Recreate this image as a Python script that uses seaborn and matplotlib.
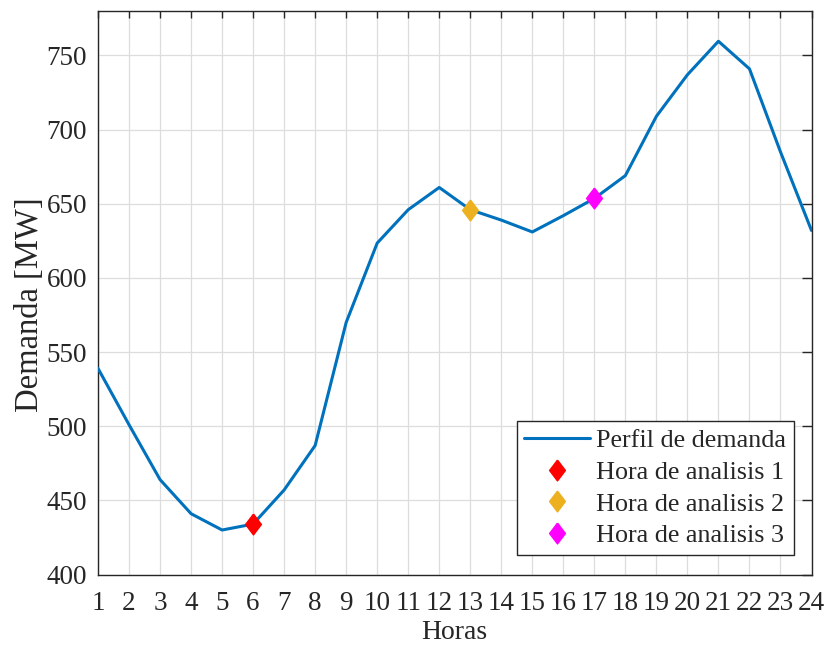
import numpy as np
import pandas as pd
import matplotlib
matplotlib.use("Agg")
import matplotlib.pyplot as plt
import seaborn as sns

horas = list(range(1, 25))
demanda = [539, 501, 464, 441, 430, 434, 457, 487, 570, 623.5, 646, 661,
           646, 639, 631, 642, 653.6, 669, 709, 737, 759.6, 741, 685, 632]
horas_analisis = [6, 13, 17]
etiquetas_analisis = ["Hora de analisis 1", "Hora de analisis 2", "Hora de analisis 3"]
colores_analisis = ["#FF0000", "#EDB120", "#FF00FF"]
etiqueta_linea = "Perfil de demanda"

sns.set_theme(style="white")
plt.rcParams['font.family'] = ['Liberation Serif', 'DejaVu Serif']
plt.rcParams['mathtext.fontset'] = 'stix'

fig = plt.figure(figsize=(8.27, 6.48), dpi=100)
ax = fig.add_axes([98/827, 1-574.5/648, (811.5-98)/827, (574.5-11)/648])

df = pd.DataFrame({"Horas": horas, "Demanda": demanda})
sns.lineplot(data=df, x="Horas", y="Demanda", ax=ax, color="#0072BD",
             linewidth=2.2, label=etiqueta_linea, zorder=3)

diamond = [(0, 1), (0.76, 0), (0, -1), (-0.76, 0), (0, 1)]
for h, lab, c in zip(horas_analisis, etiquetas_analisis, colores_analisis):
    ax.plot([h], [demanda[h-1]], linestyle="none", marker=diamond,
            markersize=15, color=c, markeredgecolor=c, label=lab, zorder=4)

ax.set_xlim(1, 24)
ax.set_ylim(400, 780)
ax.set_xticks(horas)
ax.set_yticks(np.arange(400, 751, 50))
ax.grid(True, color="#DDDDDD", linewidth=0.9)
ax.set_axisbelow(True)
for s in ax.spines.values():
    s.set_color("#262626")
    s.set_linewidth(1.0)
    s.set_visible(True)
ax.tick_params(direction="in", width=1.0, colors="#262626",
               labelsize=19.5, top=True, right=True, labelcolor="#262626")
ax.tick_params(axis="x", length=5, pad=12)
ax.tick_params(axis="y", length=7, pad=8)

ax.set_xlabel("Horas", fontsize=20, color="#262626", labelpad=3)
ax.set_ylabel("Demanda [MW]", fontsize=23.5, color="#262626")
ax.yaxis.set_label_coords(-0.074, 0.478)

leg = ax.legend(loc="lower right", bbox_to_anchor=(0.9755, 0.0346), fontsize=18.8,
                frameon=True, fancybox=False, edgecolor="#262626",
                framealpha=1.0, borderpad=0.3, labelspacing=0.32,
                handlelength=2.5, handletextpad=0.25, borderaxespad=0)
leg.get_frame().set_linewidth(1.0)

fig.savefig("out.png", dpi=100)
